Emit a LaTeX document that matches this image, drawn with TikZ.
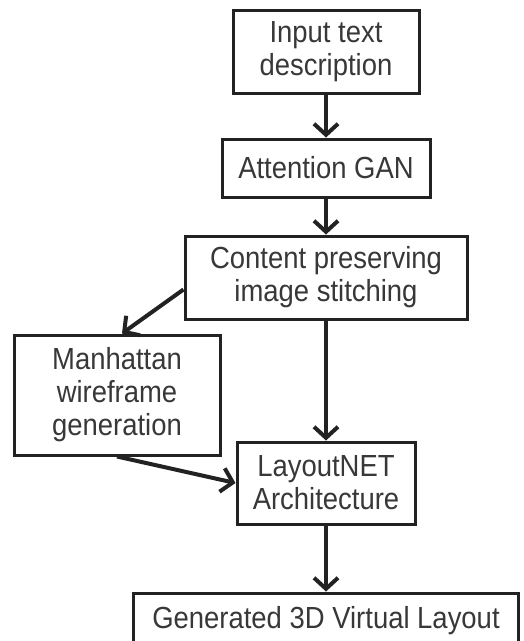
\documentclass[tikz,border=0pt]{standalone}
\usepackage{fontspec}
\setmainfont{Liberation Sans}[FakeStretch=0.9]
\usetikzlibrary{arrows.meta}
\definecolor{trait}{HTML}{222222}
\definecolor{texte}{HTML}{383838}
\begin{document}
\begin{tikzpicture}[x=1pt, y=1pt, text=texte, font=\fontsize{30.5}{33}\selectfont,
        >={Straight Barb[length=11pt,width=24pt]}]
        \tikzstyle{block} = [rectangle, draw=trait, line width=3pt, fill=white, align=center, inner sep=0pt]
        \tikzstyle{flow} = [->, draw=trait, line width=4pt]

        \useasboundingbox[fill=white] (0,0) rectangle (524,-641);

        % Noeuds
        \node[block, minimum width=186pt, minimum height=83pt] (input) at (326,-51.5) {Input text\\description};
        \node[block, node distance=116.5pt, below of = input, minimum width=208pt, minimum height=58pt] (attention) {Attention GAN};
        \node[block, node distance=109.5pt, below of = attention, minimum width=282pt, minimum height=83pt] (content) {Content preserving\\image stitching};
        \node[block, minimum width=206pt, minimum height=120pt] (manhattan) at (117,-395) {Manhattan\\wireframe\\generation};
        \node[block, node distance=205.5pt, below of = content, minimum width=178pt, minimum height=82pt] (layout) {LayoutNET\\Architecture};
        \node[block, node distance=138pt, below of = layout, minimum width=385pt, minimum height=56pt] (generated) {Generated 3D Virtual Layout};

        % Flèches
        \draw[flow] (input) -- (attention);
        \draw[flow] (attention) -- (content);
        \draw[flow] (content) -- (layout);
        \draw[flow] ([yshift=-12pt]content.west) -- ([xshift=5pt]manhattan.north);
        \draw[flow] (manhattan.south) -- (layout.west);
        \draw[flow] (layout) -- (generated);
\end{tikzpicture}
\end{document}
